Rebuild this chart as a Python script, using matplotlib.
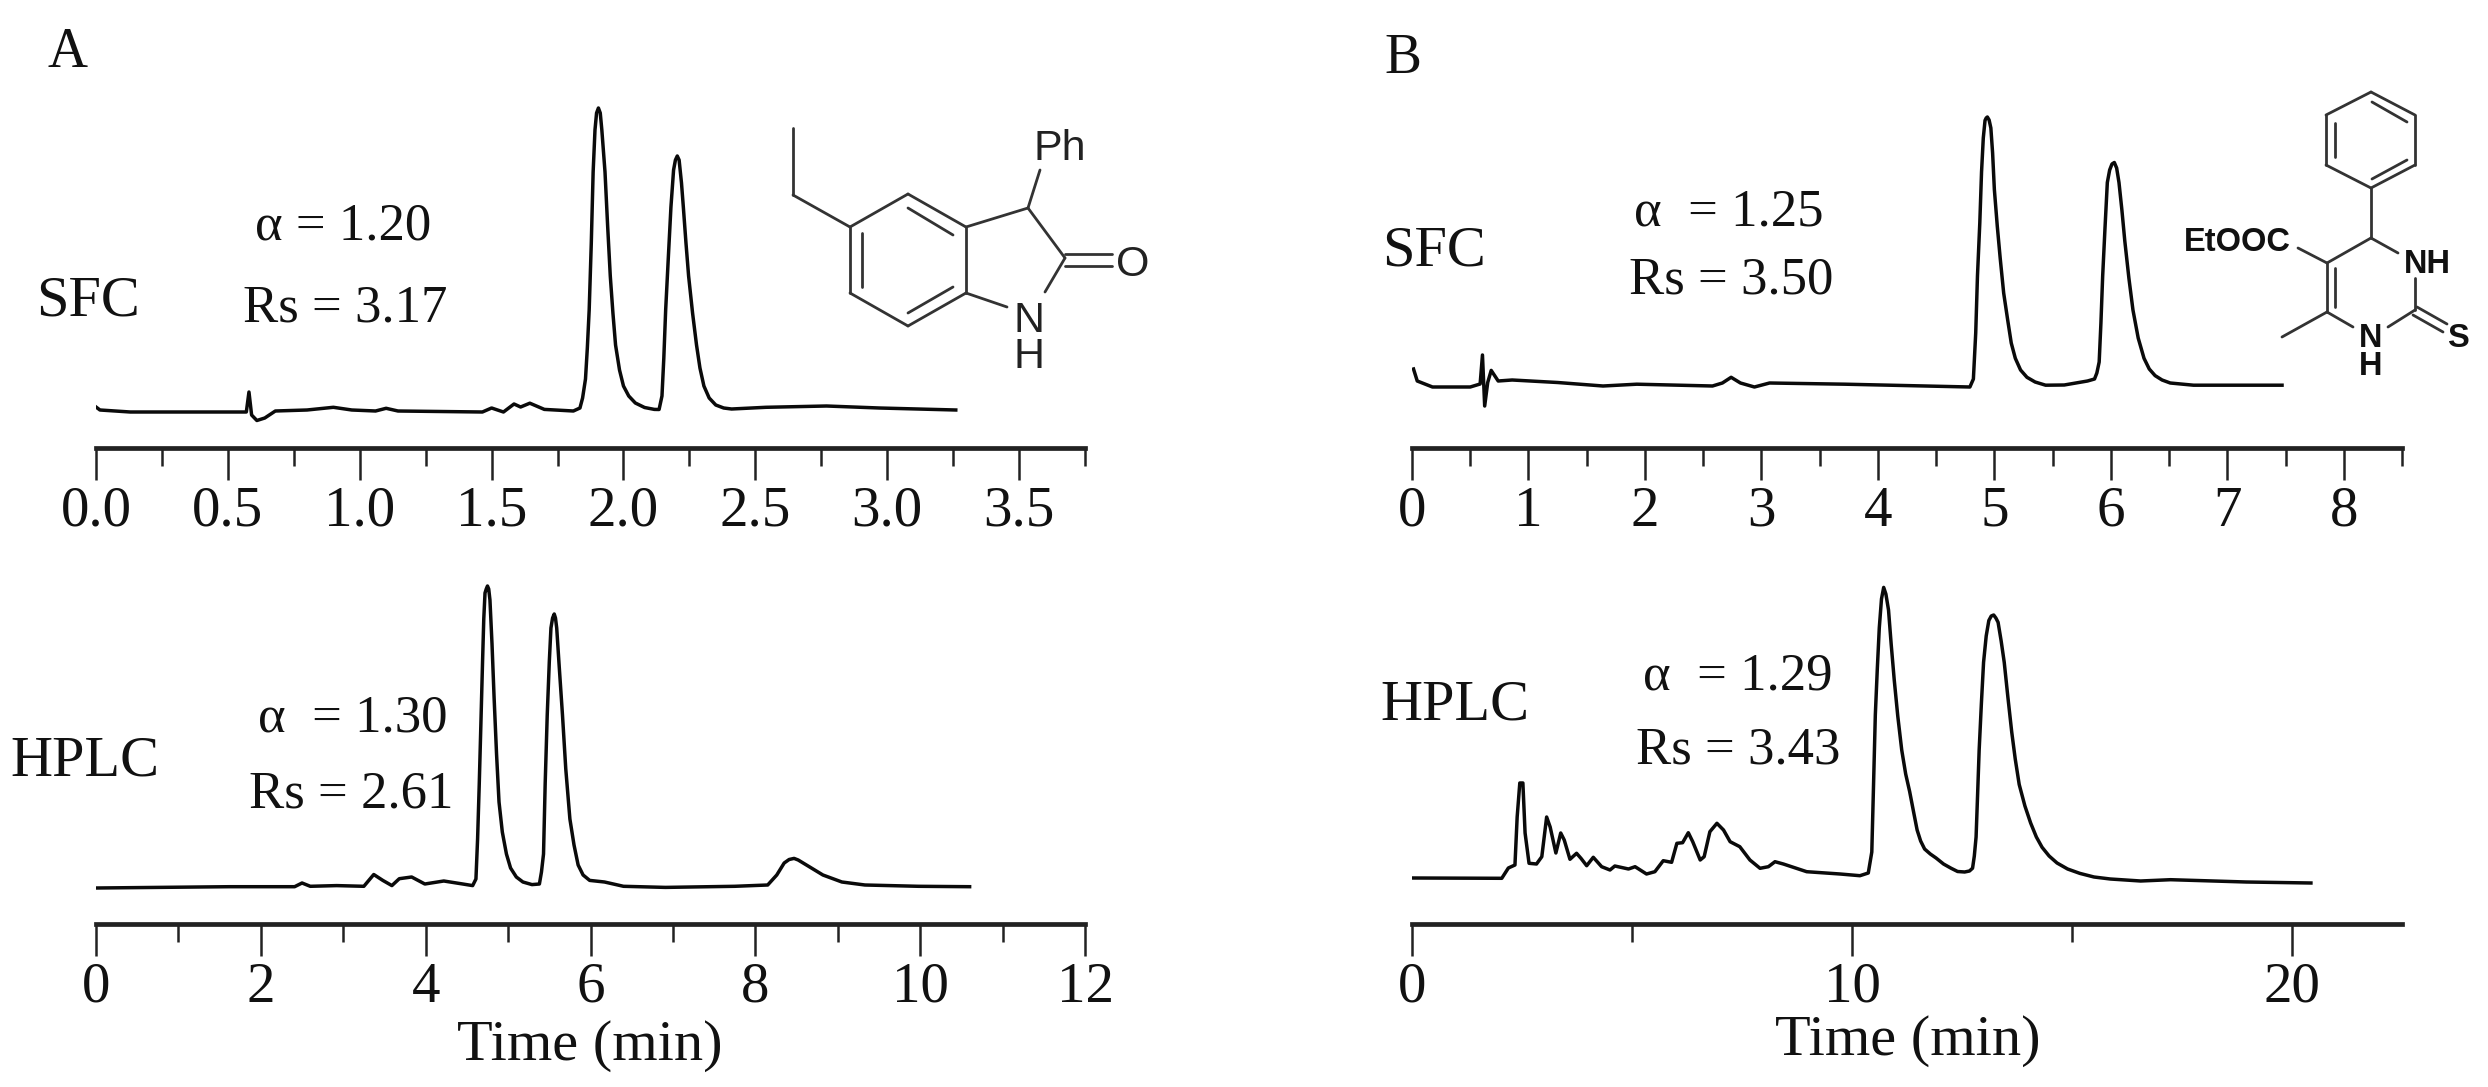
import matplotlib
matplotlib.use('Agg')
import matplotlib.pyplot as plt
from matplotlib.ticker import MultipleLocator

W, H = 2488, 1087
plt.rcParams['font.family'] = ['Liberation Serif', 'DejaVu Serif']

# signal = height above the time axis
a_sfc_t = [0, .015, .13, .57, .58, .59, .61, .64, .68, .80, .90, .97, 1.06, 1.10, 1.145, 1.465, 1.50, 1.545,
           1.585, 1.61, 1.645, 1.70, 1.81, 1.835, 1.845, 1.856, 1.863, 1.87, 1.878, 1.885, 1.892, 1.898, 1.905,
           1.912, 1.918, 1.93, 1.94, 1.95, 1.96, 1.97, 1.985, 2.0, 2.02, 2.045, 2.08, 2.117, 2.135, 2.146, 2.153,
           2.16, 2.17, 2.18, 2.19, 2.197, 2.204, 2.211, 2.22, 2.227, 2.237, 2.247, 2.262, 2.277, 2.29, 2.305,
           2.325, 2.35, 2.38, 2.41, 2.54, 2.77, 2.97, 3.26]
a_sfc_y = [41, 38, 36, 36, 56, 33, 27.5, 30, 37, 38, 40.7, 38, 37, 39.7, 37, 36, 40, 36,
           44, 41, 44.8, 38.6, 37, 40, 50, 69, 100, 138, 205, 276, 318, 335, 340,
           335, 318, 276, 222, 172, 135, 103, 78, 62, 52, 45, 40.5, 38.6, 38.5, 52, 90,
           138, 190, 241, 278, 288, 292, 288, 265, 241, 205, 172, 135, 103, 80, 62,
           50, 43, 40, 39, 40.7, 42, 40, 38]

a_hplc_t = [0, 1.62, 2.41, 2.5, 2.6, 2.92, 3.25, 3.37, 3.48, 3.59, 3.68, 3.83, 3.99, 4.22, 4.45,
            4.57, 4.61, 4.63, 4.65, 4.67, 4.69, 4.705, 4.72, 4.735, 4.75, 4.765, 4.78, 4.805, 4.83, 4.86, 4.89,
            4.93, 4.98, 5.03, 5.10, 5.18, 5.29, 5.38, 5.405, 5.43, 5.45, 5.475, 5.50, 5.52, 5.54, 5.56, 5.575,
            5.59, 5.62, 5.66, 5.70, 5.75, 5.80, 5.85, 5.91, 5.99,
            6.17, 6.4, 6.91, 7.75, 8.15, 8.26, 8.35, 8.41, 8.47, 8.52, 8.58, 8.82, 9.05, 9.33, 9.98, 10.6]
a_hplc_y = [36, 37.3, 37.3, 41, 37.7, 38.4, 37.7, 49.5, 43.6, 38.4, 45.3, 47, 40, 43, 40,
            38.4, 45, 85, 139.5, 200, 261.6, 305, 331, 335, 338, 335, 324, 280, 227, 170, 122,
            92, 70, 56, 47, 42, 39.4, 40, 52, 70, 140, 209, 262, 296, 306, 310, 306,
            296, 258, 209, 155, 105, 79, 59, 49, 43.6,
            42, 37.7, 36.6, 37.7, 39, 49, 61, 64.5, 65.6, 64, 61, 49, 42, 39, 37.7, 37.3]

b_sfc_t = [.013, .045, .176, .5, .585, .605, .624, .65, .68, .74, .86, 1.25, 1.64, 1.93, 2.58, 2.665, 2.74, 2.82,
           2.94, 3.07, 3.72, 4.79, 4.82, 4.84, 4.855, 4.875, 4.89, 4.905, 4.92, 4.93, 4.94, 4.955, 4.97, 4.985,
           5.0, 5.025, 5.05, 5.08, 5.115, 5.145, 5.18, 5.225, 5.28, 5.35, 5.44, 5.6, 5.8, 5.86, 5.88, 5.9, 5.915,
           5.93, 5.95, 5.97, 5.99, 6.01, 6.03, 6.05, 6.07, 6.095, 6.12, 6.155, 6.19, 6.235, 6.285, 6.33, 6.38,
           6.44, 6.51, 6.71, 7.47]
b_sfc_y = [79, 67, 61, 61, 64, 93, 42, 65.5, 77.6, 67, 68, 65.5, 62, 63.8, 62, 65, 70.7, 65,
           61, 65, 63.8, 61, 69, 115, 172, 225, 276, 310, 327.6, 330, 331, 328, 320, 295,
           258.6, 222, 190, 155, 127.6, 105, 89.7, 78, 70.7, 66, 62.8, 63, 67, 69, 75, 86, 125,
           172, 220, 265.5, 278, 284, 285.5, 280, 265.5, 238, 207, 170, 138, 110, 89.7, 79, 72.4,
           68, 65, 62.8, 62.8]

b_hplc_t = [.03, 2.04, 2.19, 2.34, 2.39, 2.45, 2.52, 2.57, 2.66, 2.83, 2.95, 3.06, 3.14, 3.27, 3.38, 3.46, 3.59,
            3.74, 3.84, 3.97, 4.12, 4.31, 4.5, 4.61, 4.92, 5.07, 5.33, 5.52, 5.71, 5.9, 6.02, 6.15, 6.28, 6.38,
            6.55, 6.64, 6.77, 6.93, 7.08, 7.23, 7.45, 7.68, 7.91, 8.1, 8.25, 8.44, 8.97, 9.73, 10.18, 10.37,
            10.45, 10.49, 10.53, 10.575, 10.62, 10.67, 10.72, 10.77, 10.83, 10.89, 10.96, 11.04, 11.13, 11.22,
            11.31, 11.4, 11.48, 11.56, 11.65, 11.78, 11.91, 12.08, 12.25, 12.4, 12.56, 12.67, 12.74, 12.78,
            12.82, 12.855, 12.89, 12.94, 12.99, 13.05, 13.11, 13.165, 13.22, 13.27, 13.32, 13.39, 13.46, 13.54,
            13.63, 13.71, 13.8, 13.93, 14.06, 14.19, 14.32, 14.48, 14.66, 14.9, 15.18, 15.5, 15.87,
            16.56, 17.24, 18.96, 20.43]
b_hplc_y = [46, 45.7, 56, 59, 107, 141, 141, 91, 60.7, 60, 67.3, 107, 97, 71, 91, 84, 64.7,
            70.7, 65.7, 58.3, 66.7, 57.3, 54, 58, 55, 57.3, 50, 52.3, 63.3, 61.7, 80.7, 81.3, 91.3, 82.3,
            64, 67.3, 92.3, 100.7, 94, 82.3, 77.3, 64, 55.7, 57.3, 62.3, 60, 52.3, 50, 48.3, 51,
            72, 140, 209, 255, 296, 325, 336.6, 330, 314, 280, 244, 208, 174, 150,
            132.5, 112, 94, 83, 75, 70, 66, 60, 55.8, 52.5, 52, 53, 55.8, 68,
            87, 130, 174, 220, 261.6, 288, 303.5, 308, 309, 306, 301.7, 283, 261.6, 228,
            192, 165, 139.5, 118, 101, 87, 76.7, 68, 61, 55, 50.6, 47, 45,
            43, 44.3, 42, 41]

a_sfc_ticks = [0, .5, 1, 1.5, 2, 2.5, 3, 3.5]
a_sfc_labels = ['0.0', '0.5', '1.0', '1.5', '2.0', '2.5', '3.0', '3.5']
a_hplc_ticks = [0, 2, 4, 6, 8, 10, 12]
b_sfc_ticks = [0, 1, 2, 3, 4, 5, 6, 7, 8]
b_hplc_ticks = [0, 10, 20]

# bonds of the two structures, in picture pixels
mol_a = [((793, 128), (793, 195)), ((793, 195), (850, 227)), ((850, 227), (908, 194)), ((908, 194), (966, 227)),
         ((966, 227), (966, 293)), ((966, 293), (908, 326)), ((908, 326), (850, 293)), ((850, 293), (850, 227)),
         ((862, 233), (862, 287)), ((908, 208), (953, 235)), ((908, 313), (953, 287)), ((966, 227), (1028, 208)),
         ((1028, 208), (1040, 170)), ((1028, 208), (1065, 258)), ((1065, 258), (1045, 292)),
         ((966, 293), (1007, 307)), ((1065, 254), (1112, 254)), ((1065, 266), (1112, 266))]
mol_b = [((2371, 92), (2415, 115)), ((2415, 115), (2415, 165)), ((2415, 165), (2371, 188)), ((2371, 188), (2326, 165)),
         ((2326, 165), (2326, 115)), ((2326, 115), (2371, 92)), ((2372, 102), (2407, 122)), ((2407, 160), (2372, 179)),
         ((2335, 123), (2335, 157)), ((2371, 188), (2371, 238)), ((2371, 238), (2327, 263)), ((2371, 238), (2398, 253)),
         ((2327, 263), (2327, 312)), ((2335, 268), (2335, 307)), ((2327, 263), (2298, 248)), ((2327, 312), (2282, 337)),
         ((2327, 312), (2353, 327)), ((2415, 278), (2415, 310)), ((2415, 310), (2388, 327)),
         ((2417, 307), (2447, 324)), ((2413, 315), (2443, 332))]


def make_axis(x0, x1, y_axis, top, tmax, minor, curve_t, curve_y, ticks, labels):
    ax = fig.add_axes([x0 / W, 1 - y_axis / H, (x1 - x0) / W, (y_axis - top) / H])
    ax.patch.set_visible(False)
    for s in ['left', 'right', 'top']:
        ax.spines[s].set_visible(False)
    ax.spines['bottom'].set_linewidth(3.4)
    ax.spines['bottom'].set_color('#222222')
    ax.plot(curve_t, curve_y, color='#0a0a0a', linewidth=2.5, solid_joinstyle='round')
    ax.set_xlim(0, tmax)
    ax.set_ylim(0, y_axis - top)
    ax.set_yticks([])
    ax.set_xticks(ticks)
    ax.set_xticklabels(labels)
    ax.xaxis.set_minor_locator(MultipleLocator(minor))
    ax.tick_params(axis='x', which='major', length=23, width=1.8, pad=4, labelsize=41, color='#222222', labelcolor='#111111')
    ax.tick_params(axis='x', which='minor', length=13, width=1.8, color='#222222')
    return ax


fig = plt.figure(figsize=(W / 100, H / 100), dpi=100)

make_axis(96, 1085, 448, 8, 3.75, .25, a_sfc_t, a_sfc_y, a_sfc_ticks, a_sfc_labels)
make_axis(96, 1085, 924, 564, 12, 1, a_hplc_t, a_hplc_y, a_hplc_ticks, [str(t) for t in a_hplc_ticks])
make_axis(1412, 2402, 448, 8, 8.5, .5, b_sfc_t, b_sfc_y, b_sfc_ticks, [str(t) for t in b_sfc_ticks])
make_axis(1412, 2402, 924, 564, 22.5, 5, b_hplc_t, b_hplc_y, b_hplc_ticks, [str(t) for t in b_hplc_ticks])

# overlay in picture pixels for the labels and structures
top = fig.add_axes([0, 0, 1, 1])
top.set_xlim(0, W)
top.set_ylim(H, 0)
top.axis('off')


def label(x, y, s, size=42):
    top.text(x, y, s, fontsize=size, ha='center', va='baseline', color='#111111')


label(68, 67, 'A', 40)
label(1403, 73, 'B', 40)
label(88, 315, 'SFC')
label(343, 239, 'α = 1.20', 38)
label(345, 321, 'Rs = 3.17', 38)
label(85, 776, 'HPLC')
label(353, 732, 'α  = 1.30', 38)
label(351, 808, 'Rs = 2.61', 38)
label(590, 1060, 'Time (min)')
label(1434, 265, 'SFC')
label(1729, 226, 'α  = 1.25', 38)
label(1731, 293, 'Rs = 3.50', 38)
label(1455, 719, 'HPLC')
label(1738, 690, 'α  = 1.29', 38)
label(1738, 764, 'Rs = 3.43', 38)
label(1908, 1055, 'Time (min)')

for bonds in [mol_a, mol_b]:
    for p, q in bonds:
        top.plot([p[0], q[0]], [p[1], q[1]], color='#333333', linewidth=2.0, solid_capstyle='round')

for x, y, s in [(1060, 160, 'Ph'), (1133, 276, 'O'), (1029, 332, 'N'), (1029, 368, 'H')]:
    top.text(x, y, s, fontsize=31, family='Liberation Sans', ha='center', va='baseline', color='#222222')
for x, y, s in [(2237, 251, 'EtOOC'), (2427, 273, 'NH'), (2371, 347, 'N'), (2371, 375, 'H'), (2458, 347, 'S')]:
    top.text(x, y, s, fontsize=23.5, family='Liberation Sans', fontweight='bold', ha='center', va='baseline', color='#111111')

plt.savefig('out.png', dpi=100)
